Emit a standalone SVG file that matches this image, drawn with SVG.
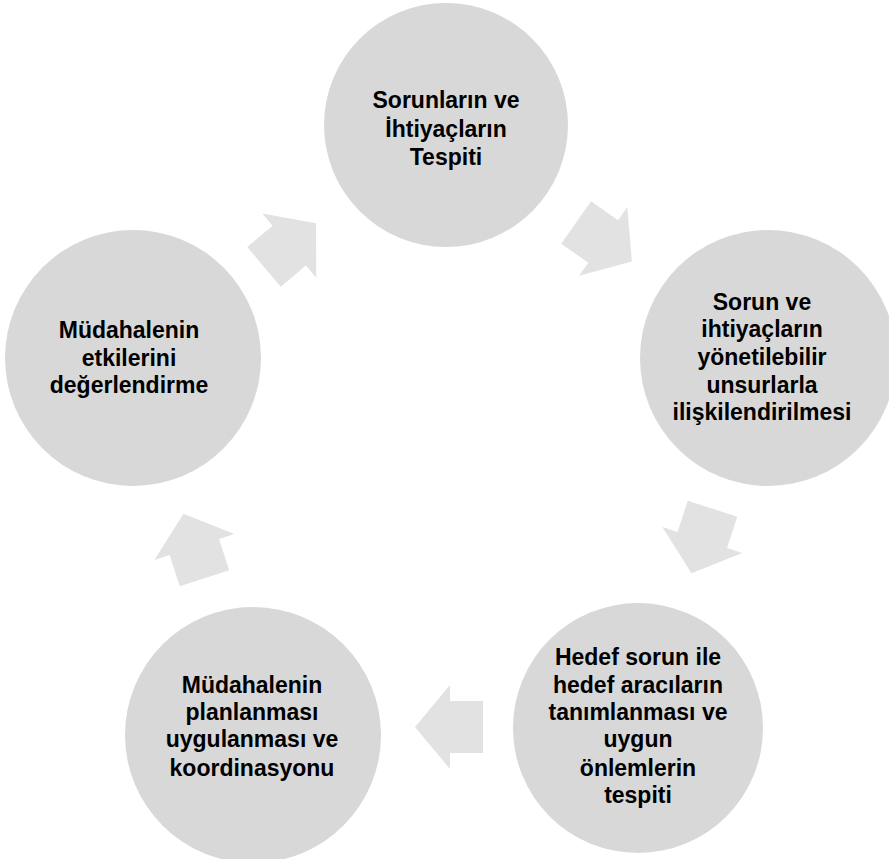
<svg xmlns="http://www.w3.org/2000/svg" width="889" height="859" viewBox="0 0 889 859">
<defs>
<style>
.node circle{fill:#d8d8d8}
.node text{font-family:"Liberation Sans",Arial,sans-serif;font-weight:bold;font-size:23px;fill:#000;text-anchor:middle}
.arr{fill:#e2e2e2}
</style>
<polygon id="ar" points="-34,-26 -1,-26 -1,-42 34,0 -1,42 -1,26 -34,26"/>
</defs>
<rect width="889" height="859" fill="#fff"/>
<g id="connectors">
<use href="#ar" class="arr" transform="translate(290,245) rotate(-40)"/>
<use href="#ar" class="arr" transform="translate(604,242) rotate(35)"/>
<use href="#ar" class="arr" transform="translate(702,541) rotate(108)"/>
<use href="#ar" class="arr" transform="translate(449,727) rotate(180)"/>
<use href="#ar" class="arr" transform="translate(194,546) rotate(252)"/>
</g>
<g id="n1" class="node">
<circle cx="446" cy="125" r="122"/>
<text x="446" y="108">Sorunların ve</text>
<text x="446" y="137">İhtiyaçların</text>
<text x="446" y="165">Tespiti</text>
</g>
<g id="n2" class="node">
<circle cx="768" cy="358" r="128"/>
<text x="762" y="310">Sorun ve</text>
<text x="762" y="337">ihtiyaçların</text>
<text x="762" y="365">yönetilebilir</text>
<text x="762" y="393">unsurlarla</text>
<text x="762" y="420">ilişkilendirilmesi</text>
</g>
<g id="n3" class="node">
<circle cx="638" cy="728" r="125"/>
<text x="638" y="665">Hedef sorun ile</text>
<text x="638" y="693">hedef aracıların</text>
<text x="638" y="720">tanımlanması ve</text>
<text x="638" y="747">uygun</text>
<text x="638" y="776">önlemlerin</text>
<text x="638" y="803">tespiti</text>
</g>
<g id="n4" class="node">
<circle cx="253" cy="735" r="128"/>
<text x="252" y="693">Müdahalenin</text>
<text x="252" y="720">planlanması</text>
<text x="252" y="747">uygulanması ve</text>
<text x="252" y="776">koordinasyonu</text>
</g>
<g id="n5" class="node">
<circle cx="133" cy="358" r="128"/>
<text x="129" y="338">Müdahalenin</text>
<text x="129" y="366">etkilerini</text>
<text x="129" y="393">değerlendirme</text>
</g>
</svg>
